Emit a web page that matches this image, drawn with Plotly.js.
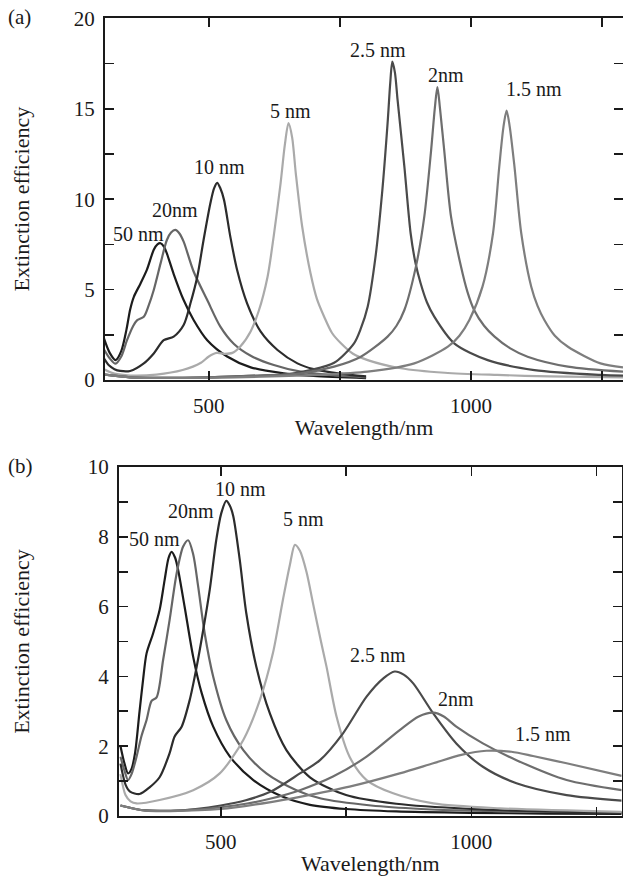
<!DOCTYPE html>
<html>
<head>
<meta charset="utf-8">
<script src="https://cdn.plot.ly/plotly-3.0.1.min.js"></script>
<style>html,body{margin:0;padding:0;background:#fff;overflow:hidden}#chart{width:623px;height:876px}</style>
</head>
<body>
<div id="chart"></div>
<script>
// ---------- Panel (a) ----------
var a50_x = [300,311,322,333,343,350,357,370,382,395,402,408,415,420,433,452,471,497,535,580,643,700,800];
var a50_y = [2.3,1.5,1.1,1.6,2.8,3.9,4.6,5.35,6.1,7.2,7.5,7.56,7.35,7.0,5.86,4.42,3.32,2.2,1.3,0.7,0.37,0.22,0.1];
var a20_x = [300,311,322,333,344,356,363,376,385,395,408,420,428,436,444,452,471,497,522,548,580,624,675,740,800];
var a20_y = [1.7,1.2,0.9,1.3,2.2,3.0,3.3,3.5,4.1,4.98,6.45,7.74,8.15,8.3,8.1,7.65,6.0,4.42,2.95,1.99,1.34,0.83,0.46,0.25,0.15];
var a10_x = [300,310,320,331,350,376,395,414,433,452,465,478,490,503,510,516,522,529,541,554,573,599,631,669,700,750,800];
var a10_y = [1.2,0.8,0.6,0.5,0.5,0.92,1.47,2.2,2.4,3.04,4.24,5.71,7.74,9.77,10.6,10.9,10.6,9.96,7.93,6.08,4.24,2.67,1.66,0.92,0.6,0.35,0.2];
var a5_x = [300,320,350,400,450,485,500,515,530,545,560,580,595,612,624,637,645,652,659,666,678,694,706,720,735,752,775,803,866,950,1050,1150,1290];
var a5_y = [0.6,0.35,0.25,0.3,0.55,0.95,1.3,1.5,1.45,1.5,1.85,2.7,3.8,5.7,8.0,10.9,13.0,14.2,13.4,11.4,8.5,5.9,4.5,3.5,2.6,2.03,1.45,1.1,0.65,0.4,0.28,0.2,0.15];
var a25_x = [300,350,400,450,500,550,600,643,694,739,777,790,803,818,831,841,846,850,855,860,873,885,894,904,916,930,968,1032,1121,1248,1290];
var a25_y = [0.3,0.15,0.12,0.12,0.15,0.2,0.25,0.3,0.55,0.95,2.03,2.85,4.05,6.82,10.5,14.2,16.4,17.6,17.0,15.5,11.8,8.1,6.5,5.35,4.3,3.5,2.03,1.1,0.55,0.28,0.24];
var a2_x = [300,350,400,500,600,675,739,790,841,858,873,895,911,924,931,936,941,949,962,981,993,1006,1025,1045,1075,1108,1185,1290];
var a2_y = [0.3,0.15,0.12,0.15,0.25,0.37,0.74,1.29,2.4,3.0,3.87,6.27,9.03,12.7,15.0,16.2,15.0,12.7,9.03,6.27,4.9,3.87,3.0,2.4,1.75,1.29,0.74,0.46];
var a15_x = [300,350,400,500,600,707,803,892,956,978,997,1022,1042,1054,1062,1068,1074,1083,1096,1115,1127,1140,1160,1185,1247,1290];
var a15_y = [0.3,0.15,0.12,0.12,0.18,0.28,0.46,0.92,1.84,2.45,3.32,5.16,8.1,11.8,14.0,14.9,14.0,11.8,8.1,5.16,4.1,3.32,2.45,1.84,0.92,0.7];

// ---------- Panel (b) ----------
var b50_x = [300,308,315,322,329,338,345,352,365,378,388,396,402,409,415,428,445,462,485,518,565,624,678,750,850,1000,1150,1300];
var b50_y = [2.0,1.5,1.22,1.35,1.8,3.0,3.9,4.66,5.23,5.9,6.76,7.4,7.57,7.4,7.05,5.99,4.56,3.52,2.56,1.71,1.03,0.55,0.32,0.2,0.13,0.09,0.07,0.06];
var b20_x = [300,308,315,322,332,342,352,362,372,385,398,412,425,435,445,455,468,485,511,545,591,651,700,800,900,1000,1150,1300];
var b20_y = [1.7,1.3,1.03,1.2,1.7,2.3,2.75,3.3,3.4,4.47,5.62,6.95,7.72,7.9,7.5,6.57,5.23,3.99,2.75,1.89,1.22,0.74,0.5,0.3,0.2,0.15,0.12,0.1];
var b10_x = [300,310,319,338,358,378,398,408,422,438,452,465,478,491,501,511,518,525,538,551,571,598,631,678,750,850,1000,1150,1300];
var b10_y = [1.5,0.9,0.7,0.63,0.82,1.11,1.8,2.28,2.56,3.32,4.28,5.33,6.48,7.9,8.67,9.03,8.9,8.59,7.33,5.81,4.28,2.94,1.89,1.11,0.6,0.35,0.2,0.13,0.1];
var b5_x = [300,310,320,332,378,445,498,545,578,604,624,638,648,658,671,684,700,711,731,757,791,844,924,1057,1300];
var b5_y = [1.2,0.6,0.42,0.36,0.46,0.74,1.22,2.18,3.32,4.66,6.19,7.2,7.77,7.6,7.0,6.1,5.0,4.28,2.85,1.7,1.03,0.65,0.36,0.22,0.12];
var b25_x = [300,330,350,400,450,500,550,600,658,698,744,791,825,847,865,884,924,970,1023,1090,1190,1300];
var b25_y = [0.3,0.2,0.16,0.15,0.2,0.3,0.45,0.7,1.22,1.6,2.37,3.42,3.95,4.14,4.05,3.8,2.94,2.08,1.41,0.94,0.6,0.44];
var b2_x = [300,330,350,400,450,500,550,600,658,724,791,857,895,924,945,970,1023,1090,1190,1300];
var b2_y = [0.3,0.2,0.16,0.15,0.18,0.25,0.35,0.5,0.74,1.13,1.7,2.46,2.85,2.96,2.85,2.56,2.08,1.6,1.03,0.74];
var b15_x = [300,330,350,400,500,600,658,757,857,924,980,1030,1080,1123,1190,1300];
var b15_y = [0.3,0.2,0.15,0.14,0.2,0.4,0.55,0.84,1.22,1.51,1.75,1.87,1.84,1.72,1.51,1.15];

var sizeLabels = ['50 nm','20nm','10 nm','5 nm','2.5 nm','2nm','1.5 nm'];
var lineColors = ['#1c1c1c','#666666','#2c2c2c','#aaaaaa','#4a4a4a','#6e6e6e','#7e7e7e'];

// label anchor positions (wavelength, efficiency)
var aLabX = [365,435,520,656,822,952,1120];
var aLabY = [8.07,9.4,11.75,14.9,18.25,16.87,16.1];
var bLabX = [368,440,539,665,813,969,1143];
var bLabY = [7.95,8.75,9.36,8.5,4.6,3.34,2.36];

var xTickVals = [500,750,1000,1250];
var xTickText = ['500','','1000',''];
var aYTickVals = [0,2.5,5,7.5,10,12.5,15,17.5,20];
var aYTickText = ['0','','5','','10','','15','','20'];
var bYTickVals = [0,1,2,3,4,5,6,7,8,9,10];
var bYTickText = ['0','','2','','4','','6','','8','','10'];

var FONT = '"Liberation Serif", "Times New Roman", serif';
var INK = '#1a1a1a';

var aSets = [[a50_x,a50_y],[a20_x,a20_y],[a10_x,a10_y],[a5_x,a5_y],[a25_x,a25_y],[a2_x,a2_y],[a15_x,a15_y]];
var bSets = [[b50_x,b50_y],[b20_x,b20_y],[b10_x,b10_y],[b5_x,b5_y],[b25_x,b25_y],[b2_x,b2_y],[b15_x,b15_y]];

var traces = [];
aSets.forEach(function(s,i){
  traces.push({x:s[0], y:s[1], type:'scatter', mode:'lines', name:sizeLabels[i],
    line:{color:lineColors[i], width:2.2, shape:'spline', smoothing:0.8}, xaxis:'x', yaxis:'y', showlegend:false});
});
bSets.forEach(function(s,i){
  traces.push({x:s[0], y:s[1], type:'scatter', mode:'lines', name:sizeLabels[i],
    line:{color:lineColors[i], width:2.2, shape:'spline', smoothing:0.8}, xaxis:'x2', yaxis:'y2', showlegend:false});
});

var W = 623, H = 876;
function axisCommon(){
  return {showline:true, linecolor:INK, linewidth:2, mirror:'ticks', ticks:'inside', ticklen:9, tickwidth:1.6,
    tickcolor:INK, showgrid:false, zeroline:false, tickfont:{family:FONT, size:21, color:INK}, fixedrange:true};
}
var xa = Object.assign(axisCommon(), {domain:[105/W, 1], range:[302,1290], tickmode:'array', tickvals:xTickVals, ticktext:xTickText,
  anchor:'y', ticklabelstandoff:6,
  title:{text:'Wavelength/nm', font:{family:FONT, size:22, color:INK}, standoff:2}});
var ya = Object.assign(axisCommon(), {domain:[1-380/H, 1-18.3/H], range:[0,20], tickmode:'array', tickvals:aYTickVals, ticktext:aYTickText,
  anchor:'x', ticklabelstandoff:4,
  title:{text:'Extinction efficiency', font:{family:FONT, size:22, color:INK}, standoff:38}});
var xb = Object.assign(axisCommon(), {domain:[119/W, 621.7/W], range:[297,1300], tickmode:'array', tickvals:xTickVals, ticktext:xTickText,
  anchor:'y2', ticklabelstandoff:6,
  title:{text:'Wavelength/nm', font:{family:FONT, size:22, color:INK}, standoff:17}});
var yb = Object.assign(axisCommon(), {domain:[1-816/H, 1-467/H], range:[0,10], tickmode:'array', tickvals:bYTickVals, ticktext:bYTickText,
  anchor:'x2', ticklabelstandoff:4,
  title:{text:'Extinction efficiency', font:{family:FONT, size:22, color:INK}, standoff:52}});

var annotations = [];
sizeLabels.forEach(function(t,i){
  annotations.push({text:t, x:aLabX[i], y:aLabY[i], xref:'x', yref:'y', showarrow:false,
    xanchor:'center', yanchor:'middle', font:{family:FONT, size:20, color:INK}});
  annotations.push({text:t, x:bLabX[i], y:bLabY[i], xref:'x2', yref:'y2', showarrow:false,
    xanchor:'center', yanchor:'middle', font:{family:FONT, size:20, color:INK}});
});
annotations.push({text:'(a)', x:19.5/W, y:1-16.5/H, xref:'paper', yref:'paper', showarrow:false,
  xanchor:'center', yanchor:'middle', font:{family:FONT, size:21, color:INK}});
annotations.push({text:'(b)', x:20.5/W, y:1-466/H, xref:'paper', yref:'paper', showarrow:false,
  xanchor:'center', yanchor:'middle', font:{family:FONT, size:21, color:INK}});

var layout = {
  width:W, height:H, margin:{l:0, r:0, t:0, b:0},
  paper_bgcolor:'#ffffff', plot_bgcolor:'#ffffff',
  font:{family:FONT, color:INK},
  showlegend:false,
  xaxis:xa, yaxis:ya, xaxis2:xb, yaxis2:yb,
  annotations:annotations
};
Plotly.newPlot('chart', traces, layout, {displayModeBar:false, staticPlot:true});
</script>
</body>
</html>
